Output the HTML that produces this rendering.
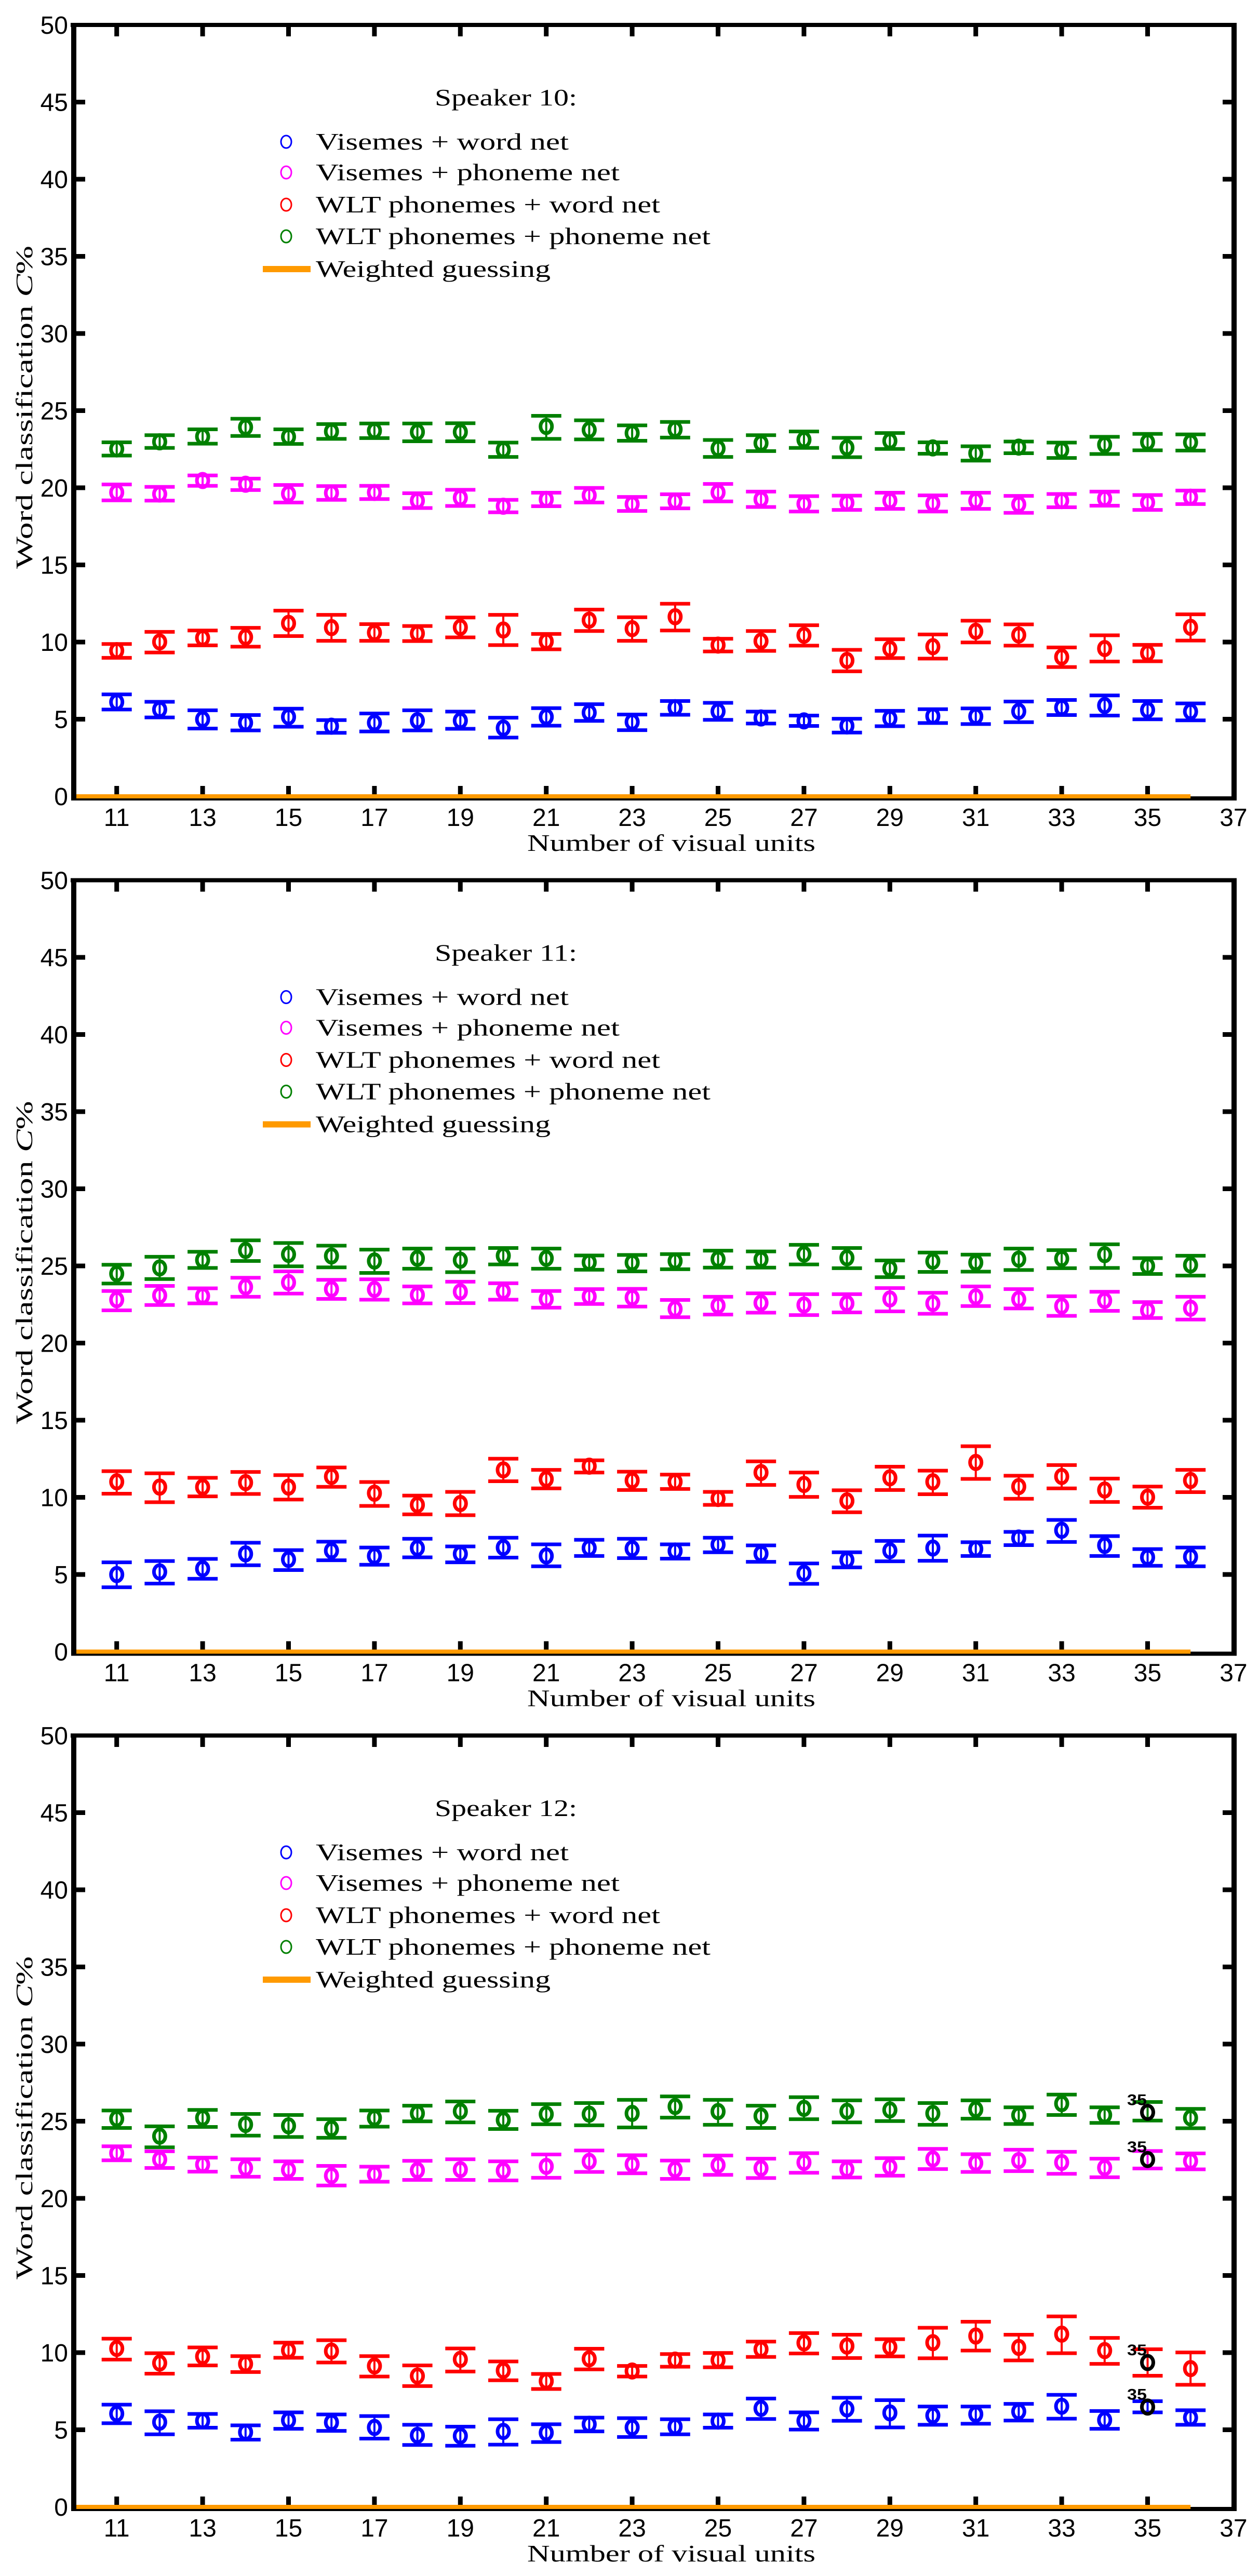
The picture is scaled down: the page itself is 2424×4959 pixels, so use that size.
<!DOCTYPE html>
<html><head><meta charset="utf-8">
<style>
html,body{margin:0;padding:0;background:#fff;}
svg{display:block;}
</style></head>
<body>
<svg id="s" width="2424" height="4959" viewBox="0 0 2424 4959" xmlns="http://www.w3.org/2000/svg"></svg>
<script>
const NS="http://www.w3.org/2000/svg";
const svg=document.getElementById('s');
function el(tag,attrs,text){const e=document.createElementNS(NS,tag);for(const k in attrs)e.setAttribute(k,attrs[k]);if(text!==undefined)e.textContent=text;svg.appendChild(e);return e;}
const X0=142,UX=82.7,UY=29.7;
function px(n){return X0+(n-10)*UX;}
const panels=[
 {dy:0,off:700,title:"Speaker 10:",data:{
  g:[[322,297,347],[295,270,318],[275,248,302],[240,208,273],[276,248,303],[256,228,284],[253,226,281],[258,226,293],[258,225,293],[325,298,352],[237,197,284],[250,214,286],[262,233,291],[248,220,279],[320,288,352],[300,270,330],[287,256,318],[317,280,353],[292,262,322],[318,297,340],[338,312,366],[315,294,338],[326,298,356],[306,276,341],[296,265,327],[297,267,328]],
  m:[[486,456,516],[492,465,517],[441,422,461],[455,434,477],[491,458,524],[488,462,514],[486,461,511],[517,489,545],[506,476,537],[538,514,561],[512,487,538],[497,469,524],[530,503,556],[519,493,546],[486,454,520],[512,483,541],[529,500,558],[525,498,552],[517,487,548],[527,497,558],[517,487,548],[531,499,563],[517,492,542],[509,483,536],[524,496,552],[504,479,530]],
  r:[[1083,1058,1110],[1050,1012,1090],[1035,1007,1063],[1032,997,1068],[980,932,1028],[996,948,1046],[1015,983,1046],[1018,990,1047],[995,958,1033],[1005,948,1062],[1048,1020,1078],[968,928,1009],[1000,957,1046],[955,906,1007],[1062,1038,1086],[1047,1009,1084],[1025,987,1064],[1120,1080,1161],[1076,1040,1111],[1068,1022,1113],[1010,970,1052],[1024,984,1064],[1107,1071,1145],[1075,1025,1124],[1092,1061,1123],[995,946,1045]],
  b:[[1277,1248,1305],[1305,1276,1335],[1342,1308,1377],[1355,1326,1384],[1333,1302,1370],[1368,1345,1393],[1355,1320,1388],[1347,1308,1384],[1347,1313,1378],[1375,1336,1411],[1333,1300,1366],[1317,1285,1348],[1352,1324,1383],[1298,1273,1325],[1312,1280,1344],[1337,1313,1358],[1348,1328,1367],[1367,1340,1392],[1339,1310,1368],[1330,1304,1356],[1331,1301,1360],[1312,1275,1353],[1298,1269,1326],[1290,1252,1328],[1307,1273,1342],[1313,1282,1346]]}},
 {dy:1646.5,off:2350,title:"Speaker 11:",data:{
  g:[[200,166,237],[178,136,220],[148,117,178],[112,74,152],[127,84,172],[133,94,176],[152,109,197],[142,105,181],[149,105,194],[132,103,165],[142,105,181],[157,131,185],[158,129,191],[152,126,183],[145,113,177],[146,116,177],[126,91,165],[140,103,179],[180,150,213],[153,120,193],[158,128,192],[145,105,186],[143,111,179],[128,89,178],[171,141,201],[167,132,207]],
  m:[[298,265,338],[282,246,318],[284,255,312],[250,215,287],[233,191,275],[258,223,295],[259,221,298],[280,248,312],[268,230,311],[266,236,298],[295,265,328],[286,258,314],[290,257,324],[333,299,364],[320,287,354],[310,274,347],[318,277,356],[312,277,346],[295,254,342],[312,272,351],[287,248,322],[296,258,331],[322,285,359],[301,268,340],[338,307,367],[330,287,373]],
  r:[[985,945,1030],[1005,953,1062],[1005,970,1040],[988,948,1031],[1005,960,1052],[965,931,1004],[1028,986,1076],[1072,1037,1108],[1067,1023,1111],[940,898,983],[975,940,1010],[926,904,950],[980,947,1016],[985,958,1012],[1048,1023,1072],[950,908,997],[995,950,1042],[1057,1017,1100],[970,928,1016],[985,943,1032],[912,851,974],[1003,962,1049],[965,922,1010],[1016,973,1061],[1043,1003,1083],[980,940,1024]],
  b:[[1335,1289,1383],[1325,1284,1369],[1313,1276,1351],[1257,1215,1300],[1278,1243,1318],[1245,1211,1281],[1265,1233,1298],[1235,1200,1270],[1257,1229,1289],[1233,1196,1271],[1265,1221,1304],[1235,1204,1265],[1237,1200,1273],[1246,1221,1275],[1222,1196,1251],[1256,1225,1287],[1330,1293,1370],[1280,1251,1308],[1245,1208,1285],[1235,1188,1283],[1238,1213,1265],[1197,1174,1224],[1168,1129,1212],[1225,1190,1265],[1270,1239,1302],[1268,1233,1304]]}},
 {dy:3293,off:3997,title:"Speaker 12:",tip:true,data:{
  g:[[160,129,195],[226,189,268],[157,127,191],[182,142,224],[187,146,229],[197,162,232],[157,129,190],[140,111,170],[132,95,174],[165,130,199],[143,105,181],[143,101,185],[140,89,193],[114,76,156],[133,89,183],[150,111,195],[121,79,162],[132,91,174],[127,87,169],[140,101,183],[125,91,160],[147,117,180],[103,69,146],[146,117,176],[136,97,167],[157,123,196]],
  m:[[290,264,317],[314,283,346],[333,307,360],[346,313,379],[353,321,387],[375,338,412],[370,341,398],[355,319,391],[352,313,391],[356,321,393],[340,295,383],[321,280,361],[332,298,366],[352,318,387],[335,299,372],[347,311,384],[325,290,364],[351,321,382],[342,309,375],[312,274,350],[327,294,361],[318,277,358],[325,285,368],[345,311,381],[314,282,348],[320,291,351]],
  r:[[1027,990,1069],[1082,1045,1122],[1057,1023,1091],[1085,1056,1116],[1034,1005,1062],[1037,996,1080],[1093,1056,1133],[1131,1091,1169],[1068,1027,1114],[1110,1076,1147],[1150,1123,1180],[1066,1028,1106],[1112,1093,1133],[1071,1048,1096],[1071,1044,1098],[1030,1001,1059],[1006,969,1046],[1018,975,1063],[1022,992,1057],[1005,949,1064],[980,926,1035],[1023,975,1072],[973,906,1045],[1035,987,1085],[1080,1030,1130],[1103,1042,1164]],
  b:[[1273,1239,1309],[1305,1264,1351],[1300,1274,1326],[1343,1317,1371],[1298,1268,1330],[1306,1276,1338],[1325,1282,1367],[1355,1315,1391],[1357,1322,1394],[1340,1294,1390],[1345,1313,1380],[1313,1288,1340],[1325,1290,1361],[1322,1294,1351],[1301,1276,1326],[1253,1216,1293],[1300,1268,1333],[1255,1213,1300],[1270,1222,1325],[1280,1246,1315],[1275,1246,1311],[1265,1236,1299],[1245,1202,1292],[1297,1263,1330],[1248,1226,1268],[1288,1260,1315]]}}
];
const COL={b:"#0000ff",m:"#ff00ff",r:"#ff0000",g:"#008000"};
const SERIF='"Liberation Serif", serif', SANS='"Liberation Sans", sans-serif';
panels.forEach(p=>{
  const top=48+p.dy, zero=1533+p.dy, L=142, R=2376;
  el('line',{x1:L,y1:zero+4,x2:R,y2:zero+4,stroke:"#000","stroke-width":8});
  el('line',{x1:L,y1:zero,x2:px(36),y2:zero,stroke:"#ff9a00","stroke-width":8});
  el('line',{x1:L-6,y1:top,x2:R+5,y2:top,stroke:"#000","stroke-width":8});
  el('line',{x1:L,y1:top-4,x2:L,y2:zero+8,stroke:"#000","stroke-width":10});
  el('line',{x1:R,y1:top-4,x2:R,y2:zero+8,stroke:"#000","stroke-width":10});
  for(let v=0;v<=50;v+=5){
    const y=zero-v*UY;
    if(v>0&&v<50){
      el('line',{x1:L,y1:y,x2:L+22,y2:y,stroke:"#000","stroke-width":9});
      el('line',{x1:R,y1:y,x2:R-22,y2:y,stroke:"#000","stroke-width":9});
    }
    el('text',{x:131,y:y+17,"text-anchor":"end","font-family":SANS,"font-size":48},String(v));
  }
  for(let n=11;n<=37;n+=2){
    const x=px(n);
    if(n<37){
      el('line',{x1:x,y1:zero-4,x2:x,y2:zero-20,stroke:"#000","stroke-width":9});
      el('line',{x1:x,y1:top,x2:x,y2:top+22,stroke:"#000","stroke-width":9});
    }
    el('text',{x:x,y:zero+57,"text-anchor":"middle","font-family":SANS,"font-size":48},String(n));
  }
  el('text',{x:1015,y:1638+p.dy,"font-family":SERIF,"font-size":46,textLength:555,lengthAdjust:"spacingAndGlyphs"},"Number of visual units");
  const yl=el('text',{x:0,y:0,"text-anchor":"middle","font-family":SERIF,"font-size":46,textLength:622,lengthAdjust:"spacingAndGlyphs",transform:`translate(62,${784+p.dy}) rotate(-90)`});
  yl.innerHTML='Word classification <tspan font-style="italic">C</tspan>%';
  el('text',{x:837,y:203+p.dy,"font-family":SERIF,"font-size":46,textLength:274,lengthAdjust:"spacingAndGlyphs"},p.title);
  const leg=[["b","Visemes + word net",487],["m","Visemes + phoneme net",585],["r","WLT phonemes + word net",663],["g","WLT phonemes + phoneme net",760]];
  const ly=[273,332,394,455];
  leg.forEach((l,i)=>{
    el('ellipse',{cx:551,cy:ly[i]+p.dy,rx:10,ry:12,fill:"none",stroke:COL[l[0]],"stroke-width":3});
    el('text',{x:608,y:ly[i]+15+p.dy,"font-family":SERIF,"font-size":46,textLength:l[2],lengthAdjust:"spacingAndGlyphs"},l[1]);
  });
  el('line',{x1:506,y1:518+p.dy,x2:598,y2:518+p.dy,stroke:"#ff9a00","stroke-width":12});
  el('text',{x:608,y:533+p.dy,"font-family":SERIF,"font-size":46,textLength:452,lengthAdjust:"spacingAndGlyphs"},"Weighted guessing");
  ["g","m","r","b"].forEach(k=>{
    p.data[k].forEach((d,i)=>{
      const n=11+i,x=px(n);
      const c=p.off+d[0]/1.96,t=p.off+d[1]/1.96,b=p.off+d[2]/1.96;
      const col=COL[k];
      el('line',{x1:x,y1:t,x2:x,y2:b,stroke:col,"stroke-width":4});
      el('line',{x1:x-29,y1:t,x2:x+29,y2:t,stroke:col,"stroke-width":7});
      el('line',{x1:x-29,y1:b,x2:x+29,y2:b,stroke:col,"stroke-width":7});
      const tip=p.tip&&n===35;
      el('ellipse',{cx:x,cy:c,rx:11,ry:13,fill:"none",stroke:tip?"#000":col,"stroke-width":7});
      if(tip){
        el('text',{x:2170,y:c-14,"font-family":SANS,"font-size":30,"font-weight":"bold",textLength:38,lengthAdjust:"spacingAndGlyphs"},"35");
      }
    });
  });
});
</script>
</body></html>
